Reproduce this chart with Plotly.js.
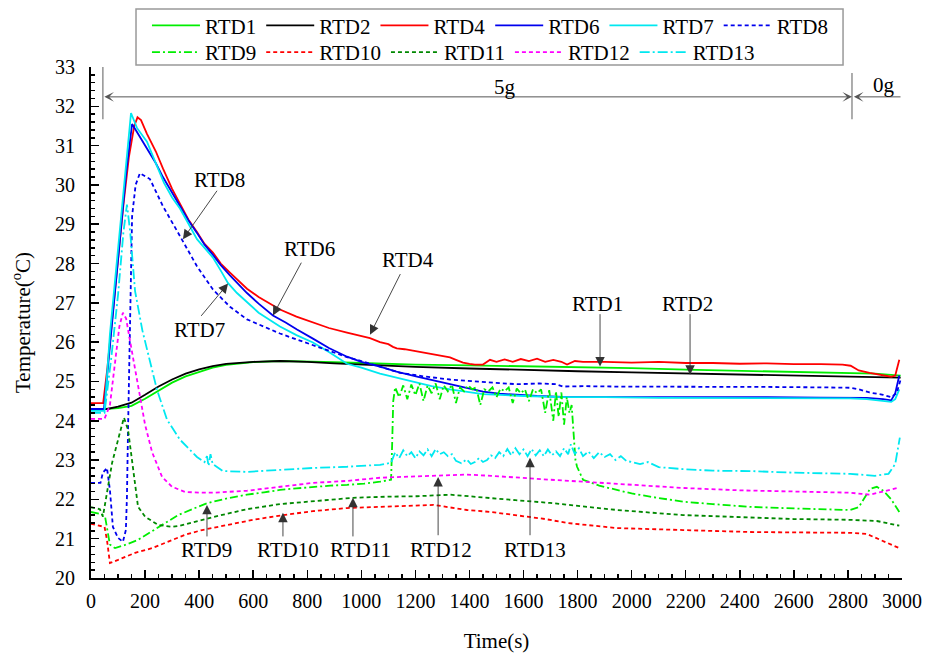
<!DOCTYPE html>
<html>
<head>
<meta charset="utf-8">
<script src="https://cdn.plot.ly/plotly-3.0.1.min.js"></script>
<style>
html,body{margin:0;padding:0;background:#fff;}
#chart{width:931px;height:657px;}
#chart svg text{font-family:"Liberation Serif","DejaVu Serif","Times New Roman","Noto Serif",serif !important;}
</style>
</head>
<body>
<div id="chart"></div>
<script>
// ---- data: [time (s), temperature (°C)] pairs ----
const RTD1 = [[0,24.3],[50,24.3],[100,24.32],[150,24.38],[200,24.56],[250,24.77],[300,24.97],[350,25.13],[400,25.25],[450,25.35],[500,25.42],[600,25.49],[700,25.52],[800,25.51],[900,25.49],[1000,25.47],[1200,25.43],[1400,25.41],[1600,25.39],[1800,25.37],[2000,25.34],[2200,25.3],[2400,25.27],[2600,25.24],[2800,25.21],[2900,25.2],[2995,25.15]];
const RTD2 = [[0,24.3],[60,24.3],[100,24.36],[150,24.46],[200,24.66],[250,24.87],[300,25.05],[350,25.2],[400,25.31],[450,25.39],[500,25.45],[600,25.5],[700,25.52],[800,25.5],[900,25.46],[1000,25.43],[1200,25.37],[1400,25.33],[1600,25.29],[1800,25.26],[2000,25.23],[2200,25.2],[2400,25.17],[2600,25.14],[2800,25.12],[2900,25.11],[2995,25.1]];
const RTD4 = [[0,24.45],[45,24.45],[60,25.3],[80,26.7],[100,28.1],[120,29.5],[140,30.7],[160,31.5],[172,31.72],[185,31.65],[207,31.3],[240,30.85],[266,30.42],[300,29.9],[329,29.52],[360,29.12],[392,28.8],[420,28.5],[451,28.28],[480,28.0],[514,27.77],[550,27.55],[577,27.36],[620,27.15],[699,26.83],[760,26.65],[821,26.5],[880,26.36],[947,26.24],[1000,26.15],[1032,26.1],[1069,26.0],[1100,25.95],[1117,25.88],[1131,25.84],[1160,25.82],[1206,25.76],[1250,25.72],[1300,25.65],[1328,25.61],[1350,25.55],[1376,25.48],[1400,25.45],[1420,25.43],[1450,25.43],[1476,25.55],[1500,25.5],[1530,25.56],[1560,25.5],[1590,25.57],[1620,25.52],[1650,25.58],[1680,25.5],[1710,25.55],[1740,25.5],[1761,25.43],[1790,25.52],[1820,25.5],[1900,25.5],[2000,25.48],[2100,25.5],[2200,25.47],[2300,25.47],[2400,25.45],[2500,25.46],[2600,25.44],[2700,25.44],[2780,25.43],[2810,25.4],[2840,25.28],[2880,25.22],[2920,25.17],[2960,25.12],[2975,25.15],[2990,25.55]];
const RTD6 = [[0,24.3],[48,24.3],[70,25.9],[100,28.1],[130,30.3],[152,31.55],[170,31.35],[207,30.95],[240,30.55],[266,30.2],[300,29.8],[329,29.45],[360,29.1],[392,28.78],[420,28.48],[451,28.22],[480,27.96],[514,27.7],[550,27.44],[577,27.25],[620,26.98],[673,26.68],[720,26.5],[762,26.32],[821,26.09],[880,25.85],[947,25.63],[1000,25.5],[1069,25.38],[1130,25.25],[1206,25.12],[1270,25.02],[1328,24.92],[1390,24.83],[1450,24.74],[1510,24.69],[1576,24.66],[1650,24.63],[1746,24.61],[1900,24.61],[2100,24.6],[2300,24.6],[2500,24.6],[2700,24.59],[2808,24.59],[2870,24.58],[2930,24.55],[2960,24.52],[2975,24.7],[2990,25.15]];
const RTD7 = [[0,24.25],[50,24.25],[70,26.2],[100,28.4],[130,30.6],[148,31.83],[170,31.45],[207,31.1],[240,30.55],[270,30.05],[300,29.68],[329,29.4],[360,29.02],[392,28.62],[420,28.4],[451,28.15],[480,27.82],[507,27.5],[540,27.25],[577,27.01],[620,26.75],[699,26.4],[760,26.18],[821,25.99],[880,25.75],[947,25.45],[1000,25.35],[1069,25.2],[1143,25.07],[1200,24.97],[1260,24.88],[1328,24.8],[1400,24.72],[1450,24.68],[1513,24.66],[1600,24.63],[1746,24.6],[1900,24.6],[2100,24.58],[2300,24.58],[2500,24.57],[2700,24.57],[2808,24.57],[2870,24.55],[2930,24.5],[2960,24.48],[2975,24.55],[2990,24.8]];
const RTD8 = [[0,22.42],[35,22.42],[44,22.68],[59,22.8],[70,22.24],[81,21.3],[100,21.02],[118,20.92],[129,21.22],[133,22.07],[137,23.77],[145,27.0],[152,29.2],[165,30.0],[181,30.3],[218,30.15],[266,29.46],[329,28.7],[392,27.93],[451,27.34],[514,26.9],[577,26.58],[640,26.4],[699,26.22],[760,26.07],[821,25.92],[890,25.75],[947,25.62],[1000,25.52],[1069,25.38],[1143,25.22],[1230,25.13],[1328,25.05],[1420,25.0],[1500,24.96],[1576,24.93],[1660,24.95],[1720,24.93],[1746,24.87],[1820,24.88],[1950,24.87],[2100,24.87],[2300,24.86],[2500,24.86],[2700,24.85],[2808,24.84],[2840,24.8],[2880,24.72],[2930,24.66],[2960,24.6],[2980,24.7],[2995,25.05]];
const RTD9 = [[0,21.68],[40,21.62],[52,21.56],[62,21.2],[70,20.85],[89,20.76],[126,20.84],[174,20.97],[210,21.12],[248,21.3],[285,21.45],[322,21.6],[385,21.78],[429,21.9],[500,22.02],[577,22.12],[640,22.18],[699,22.24],[760,22.28],[821,22.32],[885,22.35],[947,22.37],[1010,22.4],[1069,22.45],[1110,22.5],[1114,23.4],[1118,24.5],[1125,24.85],[1140,24.6],[1155,24.9],[1170,24.55],[1185,24.92],[1200,24.65],[1215,24.95],[1230,24.5],[1245,24.9],[1260,24.7],[1275,24.95],[1290,24.55],[1305,24.9],[1320,24.75],[1335,24.92],[1350,24.45],[1365,24.85],[1380,24.75],[1395,24.9],[1410,24.8],[1425,24.85],[1440,24.4],[1455,24.8],[1470,24.75],[1485,24.85],[1500,24.6],[1515,24.82],[1530,24.75],[1545,24.85],[1560,24.45],[1575,24.82],[1590,24.7],[1605,24.8],[1620,24.5],[1635,24.8],[1650,24.7],[1665,24.8],[1680,24.2],[1695,24.78],[1710,24.0],[1720,24.75],[1730,24.1],[1740,24.72],[1750,23.9],[1760,24.6],[1770,24.2],[1778,24.4],[1785,23.6],[1792,23.0],[1798,22.83],[1820,22.5],[1880,22.35],[1946,22.24],[2000,22.15],[2068,22.07],[2130,22.0],[2190,21.94],[2300,21.88],[2438,21.81],[2600,21.77],[2700,21.75],[2808,21.73],[2840,21.8],[2882,22.27],[2907,22.32],[2931,22.22],[2960,22.0],[2990,21.68]];
const RTD10 = [[0,21.38],[50,21.3],[59,20.97],[70,20.38],[100,20.46],[163,20.64],[226,20.76],[285,20.92],[348,21.1],[411,21.22],[500,21.35],[600,21.48],[710,21.6],[821,21.7],[947,21.78],[1069,21.82],[1150,21.83],[1267,21.86],[1391,21.73],[1480,21.68],[1576,21.6],[1680,21.5],[1761,21.4],[1850,21.33],[1946,21.27],[2190,21.22],[2438,21.17],[2600,21.16],[2808,21.15],[2870,21.12],[2930,20.95],[2990,20.76]];
const RTD11 = [[0,21.8],[33,21.75],[44,21.56],[60,22.2],[78,22.93],[107,23.7],[122,24.08],[137,23.77],[152,22.93],[174,21.81],[200,21.56],[248,21.35],[300,21.3],[329,21.33],[451,21.55],[577,21.75],[699,21.88],[821,21.95],[969,22.04],[1100,22.07],[1206,22.08],[1328,22.12],[1450,22.04],[1570,21.98],[1698,21.91],[1820,21.82],[1946,21.73],[2190,21.6],[2438,21.53],[2600,21.5],[2808,21.48],[2907,21.45],[2990,21.33]];
const RTD12 = [[0,24.05],[50,24.05],[70,24.4],[90,25.6],[105,26.4],[118,26.75],[130,26.6],[140,26.2],[155,25.6],[170,25.0],[188,24.3],[200,23.9],[226,23.2],[263,22.57],[300,22.32],[348,22.19],[411,22.17],[451,22.17],[577,22.22],[699,22.32],[821,22.42],[947,22.47],[1069,22.55],[1180,22.58],[1280,22.6],[1391,22.63],[1480,22.6],[1576,22.55],[1700,22.5],[1820,22.45],[2000,22.37],[2190,22.29],[2400,22.23],[2600,22.2],[2808,22.17],[2850,22.14],[2882,22.12],[2930,22.2],[2990,22.3]];
const RTD13 = [[0,24.2],[50,24.2],[75,25.6],[100,27.2],[120,28.8],[133,29.5],[145,28.8],[163,27.3],[190,26.3],[207,25.81],[244,24.79],[281,24.03],[329,23.52],[392,23.08],[420,22.95],[429,23.1],[435,22.85],[442,23.15],[450,22.9],[488,22.72],[577,22.7],[699,22.75],[821,22.8],[947,22.83],[1069,22.88],[1110,22.93],[1125,23.2],[1140,23.05],[1155,23.25],[1170,23.1],[1185,23.2],[1200,23.05],[1215,23.22],[1230,23.12],[1245,23.27],[1260,23.1],[1275,23.28],[1290,23.15],[1305,23.2],[1320,23.1],[1335,23.15],[1350,22.98],[1370,22.92],[1390,23.02],[1405,22.9],[1420,22.95],[1435,23.05],[1450,22.95],[1465,23.0],[1480,23.12],[1495,23.05],[1510,23.2],[1525,23.1],[1540,23.28],[1555,23.12],[1570,23.3],[1585,23.15],[1600,23.27],[1615,23.1],[1630,23.28],[1645,23.12],[1660,23.25],[1675,23.1],[1690,23.27],[1705,23.12],[1720,23.22],[1735,23.1],[1750,23.3],[1765,23.15],[1775,23.4],[1790,23.15],[1805,23.3],[1820,23.1],[1840,23.22],[1860,23.05],[1880,23.2],[1900,23.08],[1920,23.15],[1940,23.0],[1960,23.1],[1980,22.98],[2000,22.95],[2031,22.9],[2060,22.95],[2100,22.82],[2190,22.77],[2300,22.73],[2438,22.72],[2600,22.68],[2808,22.65],[2850,22.62],[2900,22.6],[2950,22.65],[2975,22.9],[2985,23.3],[2992,23.57]];

const seriesNames = ['RTD1','RTD2','RTD4','RTD6','RTD7','RTD8','RTD9','RTD10','RTD11','RTD12','RTD13'];
const seriesData  = [RTD1, RTD2, RTD4, RTD6, RTD7, RTD8, RTD9, RTD10, RTD11, RTD12, RTD13];
const xTickVals = [0,200,400,600,800,1000,1200,1400,1600,1800,2000,2200,2400,2600,2800,3000];
const yTickVals = [20,21,22,23,24,25,26,27,28,29,30,31,32,33];

// ---- styles ----
const styles = {
  RTD1:  {color:'#00ee00', dash:'solid'},
  RTD2:  {color:'#000000', dash:'solid'},
  RTD4:  {color:'#ff0000', dash:'solid'},
  RTD6:  {color:'#0000ee', dash:'solid'},
  RTD7:  {color:'#00e8f0', dash:'solid'},
  RTD8:  {color:'#0000ee', dash:'4px,3px'},
  RTD9:  {color:'#00ee00', dash:'8px,3px,2px,3px'},
  RTD10: {color:'#ff0000', dash:'4px,3px'},
  RTD11: {color:'#008800', dash:'4px,3px'},
  RTD12: {color:'#ff00ff', dash:'4px,3px'},
  RTD13: {color:'#00e8f0', dash:'10px,3px,2px,3px'}
};
const FONT = 'Liberation Serif, DejaVu Serif, serif';

const traces = seriesNames.map((n, i) => ({
  type:'scatter', mode:'lines', name:n,
  x: seriesData[i].map(p => p[0]),
  y: seriesData[i].map(p => p[1]),
  line:{color:styles[n].color, dash:styles[n].dash, width:1.8},
  legend: i < 6 ? 'legend' : 'legend2',
  hoverinfo:'skip'
}));

// label annotations: [text, x, y]
const labels = [
  ['RTD8',477,30.12],['RTD7',403,26.32],['RTD6',810,28.36],['RTD4',1173,28.08],
  ['RTD1',1875,26.96],['RTD2',2205,26.96],
  ['RTD9',429,20.71],['RTD10',727,20.71],['RTD11',996,20.71],['RTD12',1295,20.71],['RTD13',1642,20.71]
];
// pointer arrows: [tailX, tailY, tipX, tipY]
const pointers = [
  [470,29.89,340,28.62],[403,26.63,507,27.49],[781,28.06,673,26.68],[1147,27.77,1032,26.19],
  [1883,26.75,1883,25.38],[2216,26.75,2216,25.17],
  [429,21.02,429,21.86],[710,21.02,710,21.66],[969,21.02,969,22.04],[1284,21.05,1284,22.57],[1624,21.05,1624,23.06]
];

const annotations = [];
labels.forEach(l => annotations.push({
  x:l[1], y:l[2], xref:'x', yref:'y', text:l[0], showarrow:false,
  font:{family:FONT, size:21, color:'#000'}
}));
pointers.forEach(p => annotations.push({
  x:p[2], y:p[3], ax:p[0], ay:p[1], xref:'x', yref:'y', axref:'x', ayref:'y',
  text:'', showarrow:true, arrowhead:2, arrowsize:2.1, arrowwidth:0.9, arrowcolor:'#333'
}));
// 5g / 0g phase arrows
annotations.push({x:2815, y:32.24, ax:44, ay:32.24, xref:'x', yref:'y', axref:'x', ayref:'y',
  text:'', showarrow:true, arrowside:'end+start', arrowhead:3, arrowsize:1.6, arrowwidth:1, arrowcolor:'#555'});
annotations.push({x:2822, y:32.24, ax:3000, ay:32.24, xref:'x', yref:'y', axref:'x', ayref:'y',
  text:'', showarrow:true, arrowhead:3, arrowsize:1.6, arrowwidth:1, arrowcolor:'#555'});
annotations.push({x:1532, y:32.49, xref:'x', yref:'y', text:'5g', showarrow:false, font:{family:FONT, size:21, color:'#000'}});
annotations.push({x:2933, y:32.54, xref:'x', yref:'y', text:'0g', showarrow:false, font:{family:FONT, size:21, color:'#000'}});

const shapes = [
  {type:'line', xref:'x', yref:'y', x0:44, x1:44, y0:31.67, y1:33.0, line:{color:'#777', width:1.2}},
  {type:'line', xref:'x', yref:'y', x0:2815, x1:2815, y0:31.67, y1:32.85, line:{color:'#777', width:1.2}},
  {type:'rect', xref:'paper', yref:'paper', x0:0.0555, x1:0.9273, y0:1.0039, y1:1.1135, line:{color:'#999', width:1.5}}
];

const axisCommon = {
  showgrid:false, zeroline:false, showline:true, linecolor:'#000', linewidth:2,
  ticks:'inside', tickcolor:'#000', tickwidth:1.5, ticklen:8,
  tickfont:{family:FONT, size:20, color:'#000'}, mirror:false
};

const layout = {
  width:931, height:657,
  margin:{l:91, r:29, t:67, b:79, autoexpand:false},
  paper_bgcolor:'#fff', plot_bgcolor:'#fff',
  font:{family:FONT, color:'#000'},
  xaxis: Object.assign({}, axisCommon, {
    range:[0,3000], tickmode:'array', tickvals:xTickVals, ticktext:xTickVals.map(String),
    minor:{dtick:50, tick0:0, ticks:'inside', ticklen:4, tickcolor:'#000', tickwidth:1.5, showgrid:false},
    ticklabelstandoff:4, automargin:false,
    title:{text:'Time(s)', font:{family:FONT, size:21, color:'#000'}, standoff:22}
  }),
  yaxis: Object.assign({}, axisCommon, {
    range:[20,33], tickmode:'array', tickvals:yTickVals, ticktext:yTickVals.map(String),
    minor:{dtick:0.2, tick0:20, ticks:'inside', ticklen:4, tickcolor:'#000', tickwidth:1.5, showgrid:false},
    ticklabelstandoff:10, automargin:false,
    title:{text:'Temperature(<sup>o</sup>C)', font:{family:FONT, size:21, color:'#000'}, standoff:19}
  }),
  legend:{x:0.069, y:1.121, xanchor:'left', yanchor:'top', orientation:'h',
    font:{family:FONT, size:21, color:'#000'}, itemwidth:48, bgcolor:'rgba(0,0,0,0)', borderwidth:0},
  legend2:{x:0.069, y:1.0685, xanchor:'left', yanchor:'top', orientation:'h',
    font:{family:FONT, size:21, color:'#000'}, itemwidth:48, bgcolor:'rgba(0,0,0,0)', borderwidth:0},
  showlegend:true,
  annotations:annotations,
  shapes:shapes
};

Plotly.newPlot('chart', traces, layout, {displayModeBar:false, staticPlot:true});
</script>
</body>
</html>
